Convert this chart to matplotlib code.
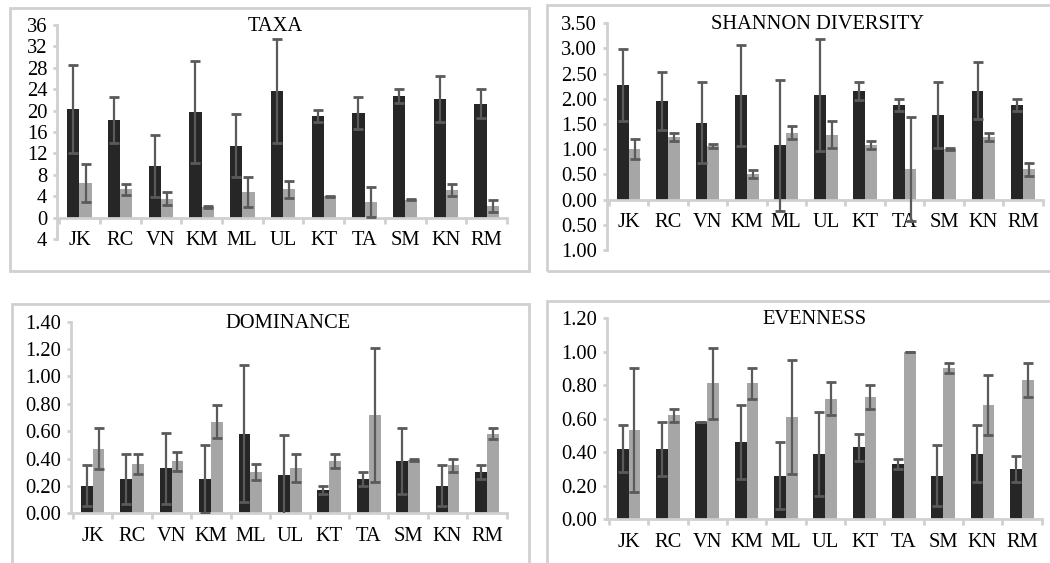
import numpy as np
import matplotlib
matplotlib.use("Agg")
import matplotlib.pyplot as plt
from matplotlib.patches import Rectangle
from matplotlib.ticker import FuncFormatter, FixedLocator

plt.rcParams["font.family"] = ["Liberation Serif", "DejaVu Serif"]

sites = ["JK", "RC", "VN", "KM", "ML", "UL", "KT", "TA", "SM", "KN", "RM"]

# TAXA
taxa_dark = [20.3, 18.3, 9.6, 19.7, 13.4, 23.7, 19.0, 19.6, 22.7, 22.2, 21.3]
taxa_dark_err = [8.3, 4.3, 5.8, 9.5, 5.9, 9.7, 1.2, 3.0, 1.3, 4.3, 2.7]
taxa_light = [6.5, 5.3, 3.5, 2.0, 4.8, 5.3, 4.0, 3.0, 3.3, 5.2, 2.2]
taxa_light_err = [3.5, 1.0, 1.2, 0.2, 2.8, 1.6, 0.1, 2.8, 0.1, 1.1, 1.1]

# SHANNON DIVERSITY
shan_dark = [2.27, 1.96, 1.53, 2.07, 1.08, 2.07, 2.16, 1.88, 1.68, 2.16, 1.88]
shan_dark_err = [0.72, 0.57, 0.81, 1.00, 1.30, 1.11, 0.18, 0.12, 0.66, 0.57, 0.12]
shan_light = [1.00, 1.25, 1.06, 0.50, 1.33, 1.29, 1.08, 0.60, 1.00, 1.25, 0.60]
shan_light_err = [0.20, 0.08, 0.04, 0.08, 0.13, 0.26, 0.08, 1.03, 0.02, 0.08, 0.13]

# DOMINANCE
dom_dark = [0.20, 0.25, 0.33, 0.25, 0.58, 0.28, 0.17, 0.25, 0.38, 0.20, 0.30]
dom_dark_err = [0.15, 0.18, 0.26, 0.25, 0.50, 0.29, 0.03, 0.05, 0.24, 0.15, 0.05]
dom_light = [0.47, 0.36, 0.38, 0.67, 0.30, 0.33, 0.38, 0.72, 0.39, 0.35, 0.58]
dom_light_err = [0.15, 0.07, 0.07, 0.12, 0.06, 0.10, 0.05, 0.49, 0.01, 0.05, 0.04]

# EVENNESS
even_dark = [0.42, 0.42, 0.58, 0.46, 0.26, 0.39, 0.43, 0.33, 0.26, 0.39, 0.30]
even_dark_err = [0.14, 0.16, 0.00, 0.22, 0.20, 0.25, 0.08, 0.03, 0.18, 0.17, 0.08]
even_light = [0.53, 0.62, 0.81, 0.81, 0.61, 0.72, 0.73, 1.00, 0.90, 0.68, 0.83]
even_light_err = [0.37, 0.04, 0.21, 0.09, 0.34, 0.10, 0.07, 0.00, 0.03, 0.18, 0.10]

DARK = "#262626"
LIGHT = "#a6a6a6"
ERR = "#5a5a5a"
AXIS = "#d0d0d0"
FS = 14.8

fig = plt.figure(figsize=(10.5, 5.63), dpi=100)

# light gray frames around each chart
frames = [
    (0.0095, 0.5187, 0.494, 0.467),
    (0.521, 0.5187, 0.49, 0.4725),
    (0.0114, -0.02, 0.4924, 0.48),
    (0.521, -0.02, 0.50, 0.485),
]
for fx, fy, fw, fh in frames:
    fig.patches.append(Rectangle((fx, fy), fw, fh, transform=fig.transFigure,
                                 fill=False, edgecolor=AXIS, linewidth=2.0))


def panel(rect, title, dark, dark_err, light, light_err, ymin, ymax, step,
          fmt, title_x, title_y):
    ax = fig.add_axes(rect)
    x = np.arange(len(sites))
    w = 0.3
    ax.bar(x - w / 2, dark, w, color=DARK, zorder=2)
    ax.bar(x + w / 2, light, w, color=LIGHT, zorder=2)
    ax.errorbar(x - w / 2, dark, yerr=dark_err, fmt="none", ecolor=ERR,
                elinewidth=1.6, capsize=3.5, capthick=2, zorder=3)
    ax.errorbar(x + w / 2, light, yerr=light_err, fmt="none", ecolor=ERR,
                elinewidth=1.6, capsize=3.5, capthick=2, zorder=3)
    ax.set_xlim(-0.55, 10.5)
    ax.set_ylim(ymin, ymax)
    ax.yaxis.set_major_locator(FixedLocator(np.arange(ymin, ymax + step / 2, step)))
    ax.yaxis.set_major_formatter(FuncFormatter(lambda v, p: fmt.format(abs(v))))
    ax.set_xticks(x)
    ax.set_xticklabels(sites)
    ax.set_xticks(np.arange(-0.5, 11, 1), minor=True)
    for s in ["top", "right"]:
        ax.spines[s].set_visible(False)
    ax.spines["bottom"].set_position(("data", 0))
    ax.spines["left"].set_bounds(ymin, ymax)
    ax.spines["bottom"].set_color(AXIS)
    ax.spines["left"].set_color(AXIS)
    ax.spines["bottom"].set_linewidth(2)
    ax.spines["left"].set_linewidth(2)
    ax.tick_params(axis="x", which="major", length=0, pad=10, labelsize=FS)
    ax.tick_params(axis="x", which="minor", length=4, width=2, color=AXIS)
    ax.tick_params(axis="y", length=3, width=2, color=AXIS, pad=4, labelsize=FS)
    ax.patch.set_visible(False)
    ax.text(title_x, title_y, title, transform=ax.transAxes, ha="center",
            va="center", fontsize=FS)
    return ax


panel([0.0543, 0.5755, 0.4286, 0.380], "TAXA",
      taxa_dark, taxa_dark_err, taxa_light, taxa_light_err,
      -4, 36, 4, "{:.0f}", 0.484, 0.995)

panel([0.578, 0.556, 0.415, 0.4027], "SHANNON DIVERSITY",
      shan_dark, shan_dark_err, shan_light, shan_light_err,
      -1.0, 3.5, 0.5, "{:.2f}", 0.484, 0.995)

panel([0.0676, 0.0883, 0.415, 0.3403], "DOMINANCE",
      dom_dark, dom_dark_err, dom_light, dom_light_err,
      0.0, 1.4, 0.2, "{:.2f}", 0.498, 0.99)

panel([0.578, 0.0776, 0.414, 0.3576], "EVENNESS",
      even_dark, even_dark_err, even_light, even_light_err,
      0.0, 1.2, 0.2, "{:.2f}", 0.478, 0.99)

fig.savefig("out.png", dpi=100)
